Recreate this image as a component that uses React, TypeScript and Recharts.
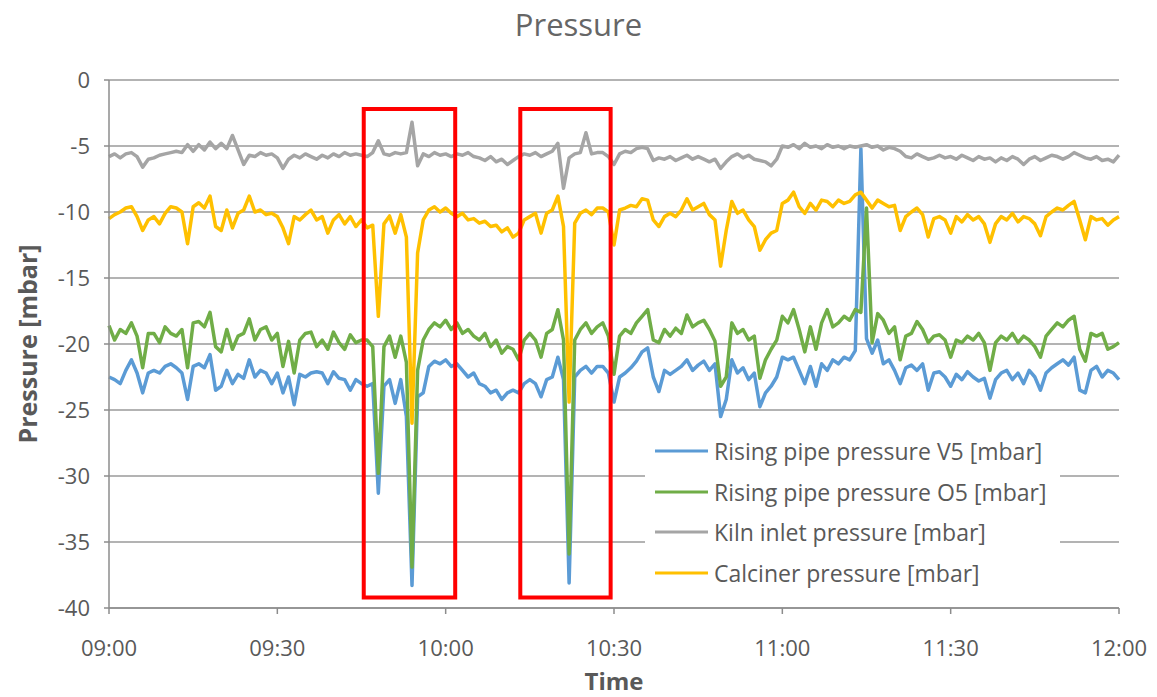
import React from "react";
import {
  CartesianGrid,
  Label,
  Legend,
  Line,
  LineChart,
  ReferenceArea,
  XAxis,
  YAxis,
} from "recharts";

// minutes after 09:00, one sample per minute
const minutes = Array.from({ length: 181 }, (_, i) => i);

const risingPipeV5 = [
  -22.5, -22.7, -23.0, -22.0, -21.2, -22.2, -23.7, -22.2, -22.0, -22.2,
  -21.7, -21.5, -21.8, -22.2, -24.2, -21.7, -21.5, -21.8, -20.8, -23.5,
  -23.2, -22.0, -23.0, -22.3, -22.6, -21.2, -22.5, -22.0, -22.2, -23.0,
  -22.2, -23.7, -22.5, -24.6, -22.3, -22.5, -22.2, -22.1, -22.2, -23.0,
  -22.1, -22.6, -22.7, -23.5, -22.7, -23.0, -23.2, -23.0, -31.3, -23.2,
  -22.7, -24.5, -22.7, -25.5, -38.3, -24.0, -23.7, -21.7, -21.3, -21.5,
  -21.2, -21.7, -21.5, -22.0, -22.5, -22.2, -23.0, -23.2, -23.7, -23.5,
  -24.2, -23.7, -23.5, -23.7, -23.0, -22.7, -23.0, -24.0, -22.7, -22.5,
  -21.0, -22.7, -38.1, -22.5, -22.0, -21.7, -22.2, -21.7, -21.7, -22.2,
  -24.4, -22.5, -22.2, -21.8, -21.3, -20.6, -20.3, -22.5, -23.6, -22.0,
  -22.3, -22.0, -21.7, -21.2, -22.0, -21.6, -21.3, -22.0, -21.5, -25.5,
  -24.2, -21.2, -22.2, -21.8, -22.7, -22.2, -24.75, -23.7, -23.2, -22.5,
  -21.0, -21.2, -21.0, -22.0, -23.0, -21.7, -23.2, -21.5, -22.0, -21.2,
  -21.5, -21.0, -21.2, -20.5, -5.2, -19.6, -20.7, -19.7, -21.5, -21.2,
  -22.0, -23.0, -21.8, -21.6, -22.0, -21.5, -23.5, -22.2, -22.1, -22.5,
  -23.2, -22.3, -22.7, -22.1, -22.5, -22.8, -22.6, -24.1, -22.7, -22.2,
  -22.0, -22.7, -22.2, -23.0, -22.0, -22.5, -23.5, -22.2, -21.8, -21.5,
  -21.2, -21.6, -21.0, -23.5, -23.7, -22.0, -21.7, -22.5, -22.0, -22.2, -22.7,
];

const risingPipeO5 = [
  -18.6, -19.7, -18.9, -19.2, -18.4, -19.4, -21.8, -19.2, -19.2, -19.9,
  -18.7, -19.2, -19.4, -18.9, -21.8, -18.4, -18.3, -18.7, -17.6, -20.2,
  -20.6, -18.9, -20.4, -19.4, -19.2, -18.1, -19.7, -18.9, -18.7, -19.7,
  -19.2, -21.7, -19.8, -22.2, -19.7, -19.2, -19.1, -20.2, -19.7, -20.4,
  -19.1, -19.9, -20.4, -19.3, -19.9, -19.7, -19.7, -20.2, -29.8, -20.2,
  -19.4, -21.0, -19.4, -21.4, -36.9, -22.0, -19.7, -18.9, -18.4, -18.7,
  -18.2, -18.9, -18.4, -19.2, -18.9, -19.4, -19.7, -19.2, -20.2, -19.7,
  -20.7, -20.2, -20.4, -21.2, -19.7, -19.2, -19.7, -21.0, -19.2, -18.9,
  -17.4, -19.7, -35.9, -19.7, -18.9, -18.4, -19.2, -18.7, -18.4, -19.4,
  -22.3, -19.4, -18.9, -19.2, -18.4, -17.9, -17.4, -19.7, -19.9, -18.9,
  -19.4, -18.8, -19.2, -17.8, -18.7, -18.4, -18.2, -18.9, -19.8, -23.2,
  -22.5, -18.4, -19.2, -18.9, -19.7, -19.4, -22.6, -21.2, -20.4, -19.7,
  -17.9, -18.4, -17.4, -18.9, -20.6, -18.7, -20.4, -18.4, -17.4, -18.7,
  -18.4, -17.9, -18.2, -17.4, -17.6, -9.7, -19.9, -17.7, -18.2, -19.2,
  -18.7, -21.2, -19.4, -19.2, -18.3, -18.9, -19.9, -19.4, -19.3, -19.7,
  -21.0, -19.7, -19.9, -19.4, -19.7, -19.2, -19.9, -22.0, -19.9, -19.4,
  -19.7, -19.2, -19.9, -19.4, -19.7, -20.2, -21.0, -19.4, -18.9, -18.4,
  -18.7, -18.2, -17.9, -20.4, -21.3, -19.2, -19.4, -19.2, -20.4, -20.2, -19.9,
];

const kilnInlet = [
  -5.8, -5.6, -5.9, -5.6, -5.5, -5.8, -6.6, -6.0, -5.9, -5.7,
  -5.6, -5.5, -5.4, -5.5, -4.9, -5.4, -4.9, -5.3, -4.7, -5.2,
  -4.8, -5.2, -4.2, -5.3, -6.4, -5.7, -5.8, -5.5, -5.7, -5.6,
  -5.9, -6.7, -6.0, -5.7, -5.9, -5.6, -5.8, -6.0, -5.7, -5.9,
  -5.6, -5.8, -5.5, -5.7, -5.6, -5.7, -5.8, -5.5, -4.6, -5.6,
  -5.7, -5.5, -5.6, -5.5, -3.2, -6.5, -5.6, -5.8, -5.5, -5.7,
  -5.6, -5.8, -5.6, -5.7, -5.5, -5.8, -5.9, -6.1, -5.8, -6.2,
  -6.0, -6.4, -6.1, -5.8, -5.6, -5.7, -5.5, -5.8, -5.6, -5.4,
  -4.8, -8.2, -5.9, -5.6, -5.5, -4.0, -5.6, -5.5, -5.5, -5.8,
  -6.4, -5.6, -5.4, -5.5, -5.2, -5.1, -5.2, -6.1, -5.9, -6.0,
  -5.8, -6.1, -5.9, -5.7, -6.0, -5.8, -6.0, -6.2, -6.0, -6.7,
  -6.2, -5.8, -5.6, -5.9, -5.7, -6.0, -6.1, -6.2, -6.5, -6.0,
  -5.0, -5.1, -4.9, -5.2, -4.8, -5.1, -5.0, -5.2, -4.9, -5.1,
  -5.0, -5.2, -5.0, -5.1, -5.0, -4.9, -5.1, -5.0, -5.3, -5.1,
  -5.2, -5.4, -5.8, -5.9, -5.6, -5.8, -6.0, -5.9, -5.7, -5.9,
  -5.8, -6.0, -5.7, -5.9, -6.1, -5.8, -6.0, -5.9, -6.2, -5.9,
  -6.1, -5.8, -6.0, -6.4, -6.0, -5.8, -6.1, -5.9, -5.7, -5.8,
  -6.0, -5.8, -5.5, -5.7, -5.9, -6.0, -5.8, -6.1, -6.0, -6.2, -5.7,
];

const calciner = [
  -10.5, -10.2, -10.0, -9.7, -9.6, -10.35, -11.4, -10.6, -10.35, -10.9,
  -10.1, -9.6, -9.7, -10.0, -12.4, -9.6, -9.3, -9.7, -8.8, -11.1,
  -11.4, -9.85, -11.2, -10.1, -9.85, -8.8, -10.0, -9.85, -10.2, -10.1,
  -10.35, -11.2, -12.4, -10.35, -10.6, -10.2, -9.85, -10.6, -10.35, -11.6,
  -10.6, -10.2, -10.9, -10.35, -11.1, -10.6, -11.2, -11.0, -17.9, -10.9,
  -10.3, -11.6, -10.2, -11.9, -26.0, -13.1, -10.6, -9.85, -9.6, -10.0,
  -9.7, -10.1, -10.35, -10.1, -10.6, -10.5, -10.85, -10.7, -11.1, -11.0,
  -11.5, -11.2, -11.9, -11.6, -10.6, -10.35, -10.1, -11.6, -10.1, -9.85,
  -8.8, -11.1, -24.4, -10.85, -10.1, -9.85, -10.2, -9.7, -9.7, -10.0,
  -12.5, -9.85, -9.7, -9.5, -9.6, -9.0, -9.1, -10.6, -11.1, -10.35,
  -10.1, -10.35, -9.85, -9.0, -9.85, -9.6, -9.35, -10.2, -10.6, -14.1,
  -11.4, -9.2, -10.1, -9.85, -10.6, -11.1, -12.9, -12.1, -11.6, -11.4,
  -9.35, -9.1, -8.5, -9.6, -10.1, -9.35, -9.85, -9.1, -9.2, -9.6,
  -9.1, -9.35, -9.2, -8.7, -8.5, -9.1, -9.7, -9.1, -9.35, -9.6,
  -9.5, -11.4, -10.35, -10.0, -9.7, -10.2, -11.9, -10.5, -10.35, -10.6,
  -11.6, -10.35, -10.75, -10.2, -10.6, -10.35, -10.9, -12.3, -10.9, -10.35,
  -10.6, -10.1, -10.75, -10.35, -10.5, -10.9, -11.8, -10.35, -10.0, -9.7,
  -9.85, -9.5, -9.2, -10.6, -12.1, -10.35, -10.6, -10.5, -11.0, -10.6, -10.35,
];

const xTicks = [0, 30, 60, 90, 120, 150, 180];
const yTicks = [0, -5, -10, -15, -20, -25, -30, -35, -40];

// the two red boxes marking the events (minutes after 09:00, mbar)
const eventWindows = [
  { from: 45.4, to: 61.7 },
  { from: 73.3, to: 89.4 },
];
const eventTop = -2.2;
const eventBottom = -39.2;

const series = [
  { key: "v5", name: "Rising pipe pressure V5 [mbar]", color: "#5B9BD5", values: risingPipeV5 },
  { key: "o5", name: "Rising pipe pressure O5 [mbar]", color: "#70AD47", values: risingPipeO5 },
  { key: "kiln", name: "Kiln inlet pressure [mbar]", color: "#A5A5A5", values: kilnInlet },
  { key: "calciner", name: "Calciner pressure [mbar]", color: "#FFC000", values: calciner },
];

const data = minutes.map((t, i) => {
  const row: Record<string, number> = { t };
  series.forEach((s) => {
    row[s.key] = s.values[i];
  });
  return row;
});

const FONT = '"Open Sans", sans-serif';
const TEXT = "#595959";
const AXIS = "#8c8c8c";

const formatTime = (t: number) => {
  const h = 9 + Math.floor(t / 60);
  const m = t % 60;
  return `${String(h).padStart(2, "0")}:${String(m).padStart(2, "0")}`;
};

function LegendBox() {
  return (
    <div style={{ fontFamily: FONT, fontSize: 23, color: TEXT, paddingTop: 1 }}>
      {series.map((s) => (
        <div key={s.key} style={{ display: "flex", alignItems: "center", height: 40.5 }}>
          <svg width={53} height={4} style={{ marginLeft: 10, marginRight: 6 }}>
            <line x1={0} y1={2} x2={53} y2={2} stroke={s.color} strokeWidth={3} />
          </svg>
          <span style={{ whiteSpace: "nowrap" }}>{s.name}</span>
        </div>
      ))}
    </div>
  );
}

export default function App() {
  return (
    <div style={{ position: "absolute", left: 0, top: 0, width: 1157, height: 697, background: "#fff" }}>
      <div
        style={{
          position: "absolute",
          left: 0,
          width: 1157,
          top: 9,
          textAlign: "center",
          fontFamily: FONT,
          fontSize: 31,
          lineHeight: "31px",
          color: "#666",
        }}
      >
        Pressure
      </div>
      <LineChart
        width={1157}
        height={697}
        data={data}
        margin={{ top: 80, right: 38, left: 0, bottom: 29 }}
      >
        <CartesianGrid vertical={false} stroke="#9a9a9a" strokeWidth={1.5} />
        <XAxis
          dataKey="t"
          type="number"
          domain={[0, 180]}
          ticks={xTicks}
          tickFormatter={formatTime}
          height={60}
          tickSize={6}
          tickMargin={26}
          tick={{ fill: TEXT, fontSize: 22, fontFamily: FONT }}
          tickLine={{ stroke: AXIS, strokeWidth: 1.5 }}
          axisLine={{ stroke: AXIS, strokeWidth: 1.5 }}
        >
          <Label
            content={() => (
              <text x={614} y={690} textAnchor="middle" fill={TEXT} fontFamily={FONT} fontSize={24} fontWeight="bold">
                Time
              </text>
            )}
          />
        </XAxis>
        <YAxis
          type="number"
          domain={[-40, 0]}
          ticks={yTicks}
          width={109}
          tickSize={5}
          tickMargin={14}
          tick={{ fill: TEXT, fontSize: 22, fontFamily: FONT }}
          tickLine={{ stroke: AXIS, strokeWidth: 1.5 }}
          axisLine={{ stroke: AXIS, strokeWidth: 1.5 }}
        >
          <Label
            content={() => (
              <text
                x={37}
                y={344}
                transform="rotate(-90 37 344)"
                textAnchor="middle"
                fill={TEXT}
                fontFamily={FONT}
                fontSize={25}
                fontWeight="bold"
              >
                Pressure [mbar]
              </text>
            )}
          />
        </YAxis>
        {series.map((s) => (
          <Line
            key={s.key}
            dataKey={s.key}
            name={s.name}
            type="linear"
            stroke={s.color}
            strokeWidth={3.5}
            strokeLinejoin="round"
            dot={false}
            activeDot={false}
            isAnimationActive={false}
          />
        ))}
        {eventWindows.map((w) => (
          <ReferenceArea
            key={w.from}
            x1={w.from}
            x2={w.to}
            y1={eventBottom}
            y2={eventTop}
            fill="none"
            fillOpacity={0}
            stroke="#ff0000"
            strokeWidth={4}
            strokeOpacity={1}
            ifOverflow="visible"
            zIndex={1000}
          />
        ))}
        <Legend
          layout="vertical"
          align="center"
          verticalAlign="middle"
          content={() => <LegendBox />}
          wrapperStyle={{ left: 645, top: 430, width: 415, height: 165, background: "#fff" }}
        />
      </LineChart>
    </div>
  );
}
